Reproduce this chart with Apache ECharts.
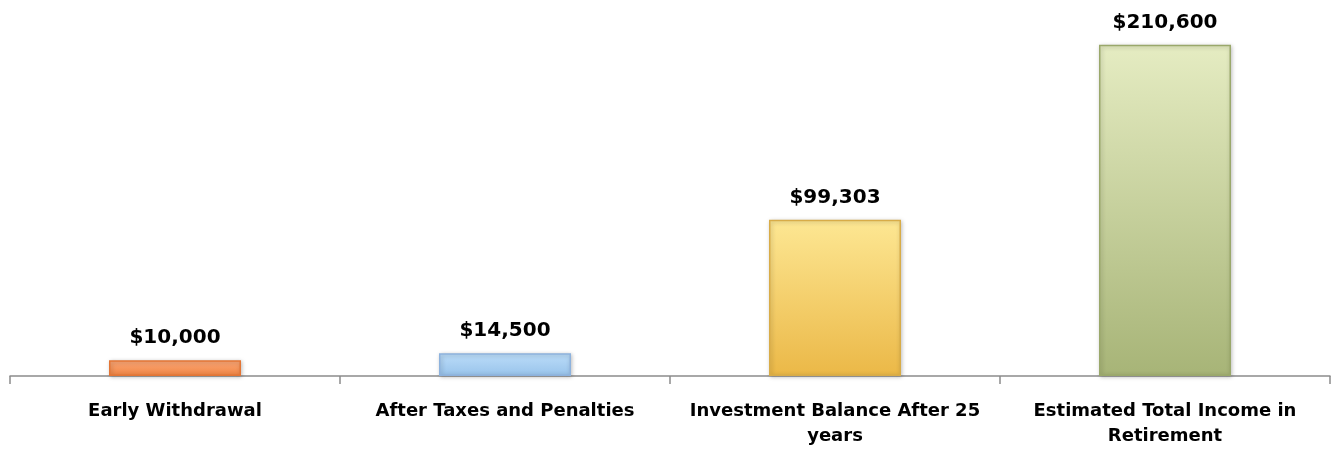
<!DOCTYPE html>
<html>
<head>
<meta charset="utf-8">
<script src="https://cdn.jsdelivr.net/npm/echarts@6/dist/echarts.min.js"></script>
<style>
  html, body { margin: 0; padding: 0; background: #fff; }
  #chart { width: 1334px; height: 450px; }
</style>
</head>
<body>
<div id="chart"></div>
<script>
let categories = ['Early Withdrawal', 'After Taxes and Penalties', 'Investment Balance After 25\nyears', 'Estimated Total Income in\nRetirement'];
let values = [10000, 14500, 99303, 210600];
// top colour, bottom colour, border
let barColors = [
  ['#FBA878', '#F08442', '#E37535'],
  ['#BCDDF9', '#98C3EB', '#8DB2DD'],
  ['#FDE793', '#EBB847', '#D8AC48'],
  ['#E5ECC2', '#A7B477', '#9AA86B']
];

let seriesData = values.map(function (v, i) {
  return {
    value: v,
    itemStyle: {
      color: new echarts.graphic.LinearGradient(0, 0, 0, 1, [
        { offset: 0, color: barColors[i][0] },
        { offset: 1, color: barColors[i][1] }
      ]),
      borderColor: barColors[i][2],
      borderWidth: 1.5,
      shadowColor: 'rgba(0,0,0,0.25)',
      shadowBlur: 4,
      shadowOffsetX: 1,
      shadowOffsetY: 1
    }
  };
});

let option = {
  animation: false,
  grid: {
    left: 10,
    right: 4,
    top: 30,
    bottom: 74
  },
  xAxis: {
    type: 'category',
    data: categories,
    axisLine: { lineStyle: { color: '#8c8c8c', width: 1.5 } },
    axisTick: { show: true, length: 8, lineStyle: { color: '#8c8c8c', width: 1.5 } },
    axisLabel: {
      color: '#000',
      fontFamily: 'DejaVu Sans',
      fontWeight: 'bold',
      fontSize: 18,
      lineHeight: 25,
      margin: 23,
      interval: 0
    }
  },
  yAxis: {
    type: 'value',
    min: 0,
    max: 220000,
    show: false,
    splitLine: { show: false }
  },
  series: [
    {
      type: 'bar',
      data: seriesData,
      barWidth: '40%',
      label: {
        show: true,
        position: 'top',
        distance: 12,
        color: '#000',
        fontFamily: 'DejaVu Sans',
        fontWeight: 'bold',
        fontSize: 20,
        formatter: function (p) {
          return '$' + p.value.toLocaleString('en-US');
        }
      }
    }
  ]
};

var myChart = echarts.init(document.getElementById('chart'));
myChart.setOption(option);
</script>
</body>
</html>
